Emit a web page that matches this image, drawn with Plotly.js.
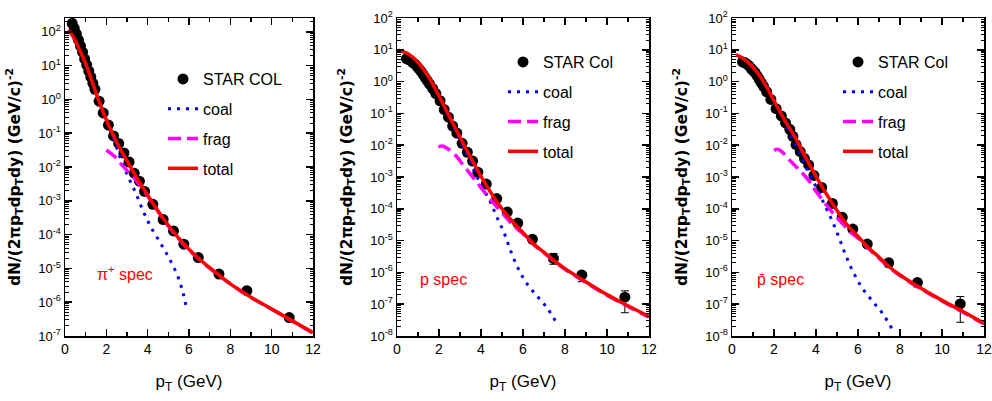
<!DOCTYPE html>
<html><head><meta charset="utf-8">
<script src="https://cdn.plot.ly/plotly-3.0.1.min.js"></script>
<style>html,body{margin:0;padding:0;background:#fff}#c{width:992px;height:401px}</style>
</head><body><div id="c"></div>
<script>
// ---------- pi+ panel ----------
const piX = [0.35,0.45,0.55,0.65,0.75,0.85,0.95,1.05,1.15,1.25,1.35,1.45,1.65,1.85,2.1,2.35,2.6,2.85,3.1,3.35,3.6,3.85,4.25,4.75,5.25,5.75,6.45,7.45,8.8,10.85];
const piY = [178,126,87,57.5,38,25,15.8,10.5,6.9,4.6,3.0,2.0,0.89,0.40,0.174,0.083,0.050,0.026,0.0141,6.6e-3,3.8e-3,1.9e-3,7.9e-4,2.8e-4,1.29e-4,5.2e-5,2.1e-5,6.8e-6,2.2e-6,3.5e-7];
const piTotX = [0.15,0.4,0.7,1.0,1.3,1.6,2.0,2.5,3.0,3.5,4.0,4.5,5.0,5.5,6.0,6.5,7.0,7.5,8.0,9.0,10.0,11.0,12.0];
const piTotY = [112,71,30,11.5,3.55,1.05,0.25,0.054,0.0151,4.5e-3,1.48e-3,5.0e-4,1.9e-4,7.9e-5,3.7e-5,1.9e-5,1.05e-5,6.0e-6,3.5e-6,1.41e-6,6.3e-7,2.8e-7,1.26e-7];
const piCoalX = [0.15,0.4,0.7,1.0,1.3,1.6,2.0,2.4,2.74,3.06,3.43,3.76,4.15,4.63,5.08,5.45,5.71,5.89];
const piCoalY = [110,69,29.5,11.2,3.47,1.0,0.234,0.056,0.0145,5.1e-3,1.66e-3,5.4e-4,1.7e-4,5.5e-5,1.78e-5,6.0e-6,1.9e-6,6.2e-7];
const piFragX = [2.0,2.2,2.42,2.7,3.06,3.39,3.8,4.2,4.6,5.0,5.5,6.0,6.5,7.0,8.0,9.0,10.0,11.0,12.0];
const piFragY = [0.032,0.026,0.020,0.0126,7.2e-3,4.4e-3,2.1e-3,9.1e-4,4.0e-4,1.78e-4,7.6e-5,3.5e-5,1.86e-5,1.02e-5,3.5e-6,1.38e-6,6.2e-7,2.75e-7,1.23e-7];

// ---------- p panel ----------
const pX = [0.45,0.55,0.65,0.75,0.85,0.95,1.05,1.15,1.25,1.35,1.45,1.55,1.7,1.85,2.05,2.25,2.45,2.65,2.85,3.1,3.35,3.6,3.85,4.25,4.75,5.25,5.75,6.45,7.45,8.8,10.85];
const pY = [5.25,5.0,4.57,3.98,3.55,3.02,2.51,2.09,1.66,1.32,1.05,0.83,0.60,0.42,0.25,0.132,0.076,0.040,0.024,0.0115,6.0e-3,3.16e-3,1.41e-3,6.0e-4,2.1e-4,7.9e-5,3.55e-5,1.1e-5,2.75e-6,8.3e-7,1.66e-7];
const pErrUp = [0,0,0,0,0,0,0,0,0,0,0,0,0,0,0,0,0,0,0,0,0,0,0,0,0,0,4e-6,2e-6,1.2e-6,2.2e-7,9.7e-8];
const pErrDn = [0,0,0,0,0,0,0,0,0,0,0,0,0,0,0,0,0,0,0,0,0,0,0,0,0,0,4e-6,2e-6,0.95e-6,3.2e-7,1.12e-7];
const pTotX = [0.05,0.5,1.0,1.5,2.0,2.5,3.0,3.5,4.0,4.5,5.0,5.5,6.0,6.5,7.0,7.5,8.0,9.0,10.0,11.0,12.0];
const pTotY = [9.8,7.6,4.0,1.41,0.355,0.079,0.0178,4.2e-3,1.05e-3,3.0e-4,1.0e-4,4.0e-5,1.78e-5,7.9e-6,4.3e-6,2.3e-6,1.32e-6,5.0e-7,2.0e-7,8.9e-8,4.1e-8];
const pCoalX = [0.05,0.5,1.0,1.5,2.0,2.5,3.0,3.5,3.92,4.4,4.75,5.11,5.38,5.73,6.14,6.65,7.16,7.63];
const pCoalY = [9.8,7.6,4.0,1.41,0.347,0.072,0.0146,2.95e-3,7.1e-4,1.9e-4,5.6e-5,1.7e-5,5.4e-6,1.5e-6,4.9e-7,1.86e-7,7.4e-8,2.4e-8];
const pFragX = [1.97,2.2,2.5,2.84,3.08,3.4,3.71,4.03,4.5,4.9,5.3,5.6,6.0,6.5,7.0,7.5,8.0,9.0,10.0,11.0,12.0];
const pFragY = [8.9e-3,9.3e-3,7.1e-3,4.4e-3,2.7e-3,1.48e-3,8.1e-4,4.4e-4,1.78e-4,9.1e-5,4.5e-5,2.75e-5,1.66e-5,7.6e-6,4.1e-6,2.2e-6,1.26e-6,4.8e-7,1.9e-7,8.5e-8,3.9e-8];

// ---------- pbar panel ----------
const pbX = [0.5,0.6,0.7,0.8,0.9,1.0,1.1,1.2,1.3,1.4,1.5,1.65,1.85,2.1,2.35,2.55,2.75,2.9,3.05,3.25,3.45,3.65,3.9,4.27,4.78,5.25,5.75,6.44,7.46,8.83,10.87];
const pbY = [4.17,3.98,3.63,3.16,2.63,2.24,1.91,1.51,1.17,0.89,0.71,0.48,0.275,0.141,0.083,0.050,0.0316,0.019,0.0105,6.3e-3,3.8e-3,2.4e-3,1.12e-3,4.7e-4,1.48e-4,5.4e-5,2.3e-5,7.8e-6,2.0e-6,4.8e-7,1.02e-7];
const pbErrUp = [0,0,0,0,0,0,0,0,0,0,0,0,0,0,0,0,0,0,0,0,0,0,0,0,0,6e-6,4e-6,1.5e-6,6e-7,1.3e-7,7.2e-8];
const pbErrDn = [0,0,0,0,0,0,0,0,0,0,0,0,0,0,0,0,0,0,0,0,0,0,0,0,0,6e-6,4e-6,1.5e-6,5e-7,1.3e-7,7.5e-8];
const pbTotX = [0.2,0.5,1.0,1.5,2.0,2.5,3.0,3.5,4.0,4.5,5.0,5.5,6.0,6.5,7.0,7.5,8.0,9.0,10.0,11.0,12.0];
const pbTotY = [6.9,5.5,2.82,1.0,0.25,0.063,0.0178,4.2e-3,1.05e-3,2.9e-4,8.9e-5,3.0e-5,1.35e-5,6.0e-6,3.0e-6,1.48e-6,8.3e-7,3.16e-7,1.32e-7,5.9e-8,2.5e-8];
const pbCoalX = [0.2,0.5,1.0,1.5,2.0,2.5,2.9,3.27,3.62,4.0,4.41,4.78,5.11,5.41,5.75,6.18,6.67,7.17,7.65];
const pbCoalY = [6.9,5.5,2.82,1.0,0.245,0.056,0.0145,4.9e-3,1.48e-3,5.0e-4,1.32e-4,4.0e-5,1.17e-5,3.55e-6,1.1e-6,3.4e-7,1.29e-7,5.1e-8,1.55e-8];
const pbFragX = [2.0,2.2,2.45,2.82,3.14,3.7,4.0,4.5,4.82,5.38,5.7,6.0,6.5,7.0,7.5,8.0,9.0,10.0,11.0,12.0];
const pbFragY = [6.9e-3,7.4e-3,5.6e-3,3.0e-3,1.86e-3,7.1e-4,3.55e-4,1.32e-4,7.2e-5,2.8e-5,1.7e-5,1.2e-5,5.6e-6,2.8e-6,1.41e-6,7.9e-7,3.0e-7,1.26e-7,5.6e-8,2.4e-8];

const xTickVals = [0,2,4,6,8,10,12];
const legendNames = ['coal','frag','total'];
const dataNames = ['STAR COL','STAR Col','STAR Col'];
const panelLabels = ['\u03c0<sup>+</sup> spec','p spec','p\u0304 spec'];

const NARROW = "'Liberation Sans Narrow','Arial Narrow','Liberation Sans',Arial,sans-serif";
const BOLDW = "'DejaVu Sans',Verdana,sans-serif";

function decadeTicks(lo, hi){
  const v=[], t=[], mv=[];
  for(let e=lo;e<=hi;e++){ v.push(Math.pow(10,e)); t.push('10<sup>'+(e<0?'-':'')+Math.abs(e)+'</sup>');
    for(let m=2;m<=9;m++) mv.push(m*Math.pow(10,e)); }
  return {v,t,mv};
}

const panels = [
  {dx:piX,dy:piY,eu:null,ed:null,cx:piCoalX,cy:piCoalY,fx:piFragX,fy:piFragY,tx:piTotX,ty:piTotY,yr:[-7,2.41],dec:[-7,2]},
  {dx:pX,dy:pY,eu:pErrUp,ed:pErrDn,cx:pCoalX,cy:pCoalY,fx:pFragX,fy:pFragY,tx:pTotX,ty:pTotY,yr:[-8,2],dec:[-8,2]},
  {dx:pbX,dy:pbY,eu:pbErrUp,ed:pbErrDn,cx:pbCoalX,cy:pbCoalY,fx:pbFragX,fy:pbFragY,tx:pbTotX,ty:pbTotY,yr:[-8,2],dec:[-8,2]}
];
const W=992,H=401;
const xDom = [[65,313],[397,649],[732,984]];
const yDom = [(H-336)/H,(H-18)/H];
const legPos = [[163,62],[503,45],[838,45]];
const labPos = [[1.45,-5.14],[1.0,-6.21],[1.1,-6.21]];

const traces=[]; const layout={width:W,height:H,margin:{l:0,r:0,t:0,b:0},paper_bgcolor:'#fff',plot_bgcolor:'#fff',showlegend:true,annotations:[]};
panels.forEach((p,i)=>{
  const s = i===0?'':String(i+1);
  const lg = i===0?'legend':'legend'+(i+1);
  const ax = {xaxis:'x'+s,yaxis:'y'+s,legend:lg};
  traces.push(Object.assign({type:'scatter',mode:'markers',x:p.dx,y:p.dy,name:dataNames[i],legendgroup:'d'+i,
    marker:{symbol:'circle',size:11,color:'black'},
    error_y: p.eu?{type:'data',symmetric:false,array:p.eu,arrayminus:p.ed,color:'black',thickness:1,width:4}:{visible:false}},ax));
  traces.push(Object.assign({type:'scatter',mode:'lines',x:p.cx,y:p.cy,name:legendNames[0],legendgroup:'c'+i,
    line:{color:'#0000ff',width:3,dash:'3px,6px',shape:'spline'}},ax));
  traces.push(Object.assign({type:'scatter',mode:'lines',x:p.fx,y:p.fy,name:legendNames[1],legendgroup:'f'+i,
    line:{color:'#ff00ff',width:3.5,dash:'13px,6px',shape:'spline'}},ax));
  traces.push(Object.assign({type:'scatter',mode:'lines',x:p.tx,y:p.ty,name:legendNames[2],legendgroup:'t'+i,
    line:{color:'#ff0000',width:3.5,shape:'spline'}},ax));
  const dt = decadeTicks(p.dec[0],p.dec[1]);
  layout['xaxis'+s] = {domain:[xDom[i][0]/W,xDom[i][1]/W],anchor:'y'+s,range:[0,12],tickmode:'array',tickvals:xTickVals,
    ticks:'inside',ticklen:7,tickwidth:1.5,tickcolor:'black',
    minor:{ticks:'inside',ticklen:4,tickwidth:1.2,tickcolor:'black',tickmode:'linear',tick0:0,dtick:1},
    showline:true,linewidth:1.5,linecolor:'black',mirror:'allticks',showgrid:false,zeroline:false,
    tickfont:{family:NARROW,size:14,color:'black'},
    title:{text:'p<sub>T</sub> (GeV)',font:{family:NARROW,size:17,color:'black'},standoff:19}};
  layout['yaxis'+s] = {domain:yDom,anchor:'x'+s,type:'log',range:p.yr,tickmode:'array',tickvals:dt.v,ticktext:dt.t,
    ticks:'inside',ticklen:7,tickwidth:1.5,tickcolor:'black',
    minor:{ticks:'inside',ticklen:3.5,tickwidth:1,tickcolor:'black',tickmode:'array',tickvals:dt.mv},
    showline:true,linewidth:1.5,linecolor:'black',mirror:'allticks',showgrid:false,zeroline:false,
    tickfont:{family:NARROW,size:13,color:'black'},
    title:{text:'<b>dN/(2\u03c0p<sub>T</sub>dp<sub>T</sub>dy) (GeV/c)<sup>-2</sup></b>',font:{family:BOLDW,size:15.5,color:'black'},standoff:14}};
  layout[lg] = {x:legPos[i][0]/W,y:1-legPos[i][1]/H,xanchor:'left',yanchor:'top',bgcolor:'rgba(0,0,0,0)',borderwidth:0,
    font:{family:NARROW,size:16,color:'black'},traceorder:'grouped',tracegroupgap:6,itemwidth:30};
  layout.annotations.push({xref:'x'+s,yref:'y'+s,x:labPos[i][0],y:labPos[i][1],xanchor:'left',yanchor:'middle',showarrow:false,
    text:panelLabels[i],font:{family:NARROW,size:16,color:'#ff0000'}});
});
Plotly.newPlot('c',traces,layout,{staticPlot:true,displayModeBar:false});
</script></body></html>
